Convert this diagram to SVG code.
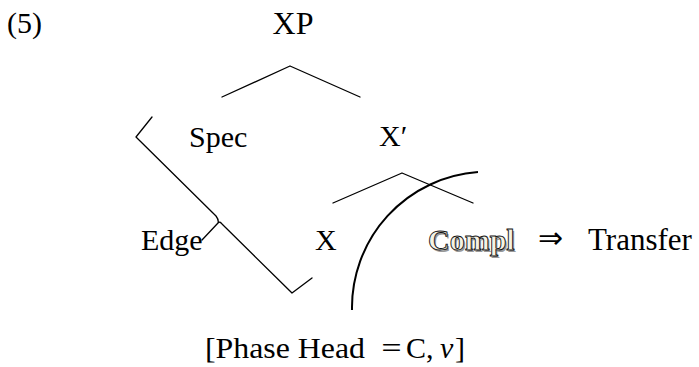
<svg xmlns="http://www.w3.org/2000/svg" width="699" height="367" viewBox="0 0 699 367">
<style>
.t{font-size:30px;fill:#000}
.e{fill:none;stroke:#000;stroke-width:1.3;stroke-linecap:round;stroke-linejoin:round}
.arc{fill:none;stroke:#000;stroke-width:2}
.ol{font-size:30px;font-weight:bold;fill:#f5f2e4;stroke:#111;stroke-width:0.9}
.sh{font-size:30px;font-weight:bold;fill:#999}
</style>
<rect width="699" height="367" fill="#fff"/>
<g font-family="Liberation Serif, Times New Roman, serif">
<text class="t" x="7" y="33">(5)</text>
<g id="XP"><text class="t" x="293" y="34" text-anchor="middle" style="font-size:32px">XP</text></g>
<g id="Spec"><text class="t" x="189" y="147">Spec</text></g>
<g id="Xbar"><text class="t" x="379" y="146">X′</text></g>
<g id="Edge"><text class="t" x="141" y="250">Edge</text></g>
<g id="X"><text class="t" x="315" y="250">X</text></g>
<g id="Compl"><text class="sh" x="429.5" y="251.5">Compl</text><text class="ol" x="428" y="250">Compl</text></g>
<g id="Transfer"><text x="538" y="248" font-family="DejaVu Sans, sans-serif" font-size="30">⇒</text><text class="t" x="588" y="250" style="font-size:31px">Transfer</text></g>
<g id="Phase"><text class="t" x="205" y="358" textLength="160" lengthAdjust="spacingAndGlyphs">[Phase Head</text><text x="380" y="356" font-family="Noto Sans CJK JP, sans-serif" font-size="23">＝</text><text class="t" x="406" y="358">C,</text><text class="t" x="440" y="358" font-style="italic">v</text><text class="t" x="455" y="358">]</text></g>
</g>
<g id="connectors">
<path class="e" d="M222 97 L290 66 L360 97"/>
<path class="e" d="M333 203 L402 173 L473 203"/>
<path class="e" d="M152 117 L136 137 L216 216 Q219 220 218 223 M218 223 L202 240 M218 223 Q220 221 222 224 L292 293 L312 278"/>
<path class="arc" d="M352 310 A136 136 0 0 1 478 172"/>
</g>
</svg>
